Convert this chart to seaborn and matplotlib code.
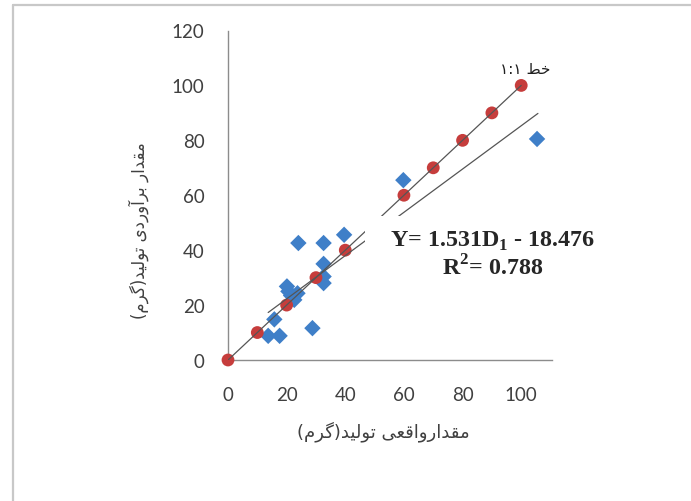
import numpy as np
import pandas as pd
import matplotlib
matplotlib.use("Agg")
import matplotlib.pyplot as plt
from matplotlib.lines import Line2D
from matplotlib.patches import Rectangle
import seaborn as sns

# data
line11_x = [0, 10, 20, 30, 40, 50, 60, 70, 80, 90, 100]
line11_y = [0, 10, 20, 30, 40, 50, 60, 70, 80, 90, 100]
obs_x = [13.7, 15.8, 17.6, 20.1, 20.6, 21.5, 22.6, 23.7, 24.0, 28.8, 32.6, 32.6, 32.6, 32.6, 39.6, 59.8, 105.4]
obs_y = [8.8, 14.8, 8.8, 26.8, 25.0, 23.5, 21.9, 24.3, 42.6, 11.6, 42.6, 35.0, 30.4, 28.0, 45.6, 65.5, 80.5]
trend_x = [13.7, 105.7]
trend_y = [17.3, 89.8]
x_ticks = [0, 20, 40, 60, 80, 100]
y_ticks = [0, 20, 40, 60, 80, 100, 120]

x_label = "مقدارواقعی تولید(گرم)"
y_label = "مقدار برآوردی تولید(گرم)"
line_label = "خط ۱:۱"
eq_text = "Y= 1.531D$_\\mathbf{1}$ - 18.476\nR$^\\mathbf{2}$= 0.788"

# tiny arabic shaping so matplotlib shows joined, right-to-left text
forms = {
    'ا': ('\uFE8D', '\uFE8E', None, None),
    'آ': ('\uFE81', '\uFE82', None, None),
    'ب': ('\uFE8F', '\uFE90', '\uFE91', '\uFE92'),
    'ت': ('\uFE95', '\uFE96', '\uFE97', '\uFE98'),
    'خ': ('\uFEA5', '\uFEA6', '\uFEA7', '\uFEA8'),
    'د': ('\uFEA9', '\uFEAA', None, None),
    'ر': ('\uFEAD', '\uFEAE', None, None),
    'ط': ('\uFEC1', '\uFEC2', '\uFEC3', '\uFEC4'),
    'ع': ('\uFEC9', '\uFECA', '\uFECB', '\uFECC'),
    'ق': ('\uFED5', '\uFED6', '\uFED7', '\uFED8'),
    'ل': ('\uFEDD', '\uFEDE', '\uFEDF', '\uFEE0'),
    'م': ('\uFEE1', '\uFEE2', '\uFEE3', '\uFEE4'),
    'و': ('\uFEED', '\uFEEE', None, None),
    'ی': ('\uFBFC', '\uFBFD', '\uFBFE', '\uFBFF'),
    'گ': ('\uFB92', '\uFB93', '\uFB94', '\uFB95'),
}

def rtl(s):
    out = []
    for i, c in enumerate(s):
        if c not in forms:
            out.append(c)
            continue
        iso, fin, ini, med = forms[c]
        p = s[i - 1] if i > 0 else ''
        n = s[i + 1] if i + 1 < len(s) else ''
        pj = p in forms and forms[p][2] is not None
        nj = n in forms and ini is not None
        if pj and nj:
            out.append(med)
        elif pj:
            out.append(fin)
        elif nj:
            out.append(ini)
        else:
            out.append(iso)
    vis = ''.join(out)[::-1]
    return vis.translate(str.maketrans('()', ')('))

sns.set_style("white")
plt.rcParams['font.family'] = ['Lato', 'DejaVu Sans']
plt.rcParams['mathtext.fontset'] = 'custom'
plt.rcParams['mathtext.rm'] = 'Liberation Serif:bold'
plt.rcParams['mathtext.bf'] = 'Liberation Serif:bold'

fig = plt.figure(figsize=(6.91, 5.02), dpi=100)
ax = fig.add_axes([228 / 691, 1 - 361 / 502, 324 / 691, 329.5 / 502])

obs = pd.DataFrame({'x': obs_x, 'y': obs_y})
ref = pd.DataFrame({'x': line11_x, 'y': line11_y})

sns.scatterplot(data=obs, x='x', y='y', marker='D', s=70, color='#3f7fc8',
                edgecolor='none', ax=ax, zorder=3, clip_on=False)
sns.scatterplot(data=ref, x='x', y='y', marker='o', s=85, color='#c63d3c',
                edgecolor='none', ax=ax, zorder=4, clip_on=False)
ax.plot(line11_x, line11_y, color='#555555', lw=0.9, zorder=5)
ax.plot(trend_x, trend_y, color='#555555', lw=0.9, zorder=5)

ax.set_xlim(0, 110.5)
ax.set_ylim(0, 120)
ax.set_xticks(x_ticks)
ax.set_yticks(y_ticks)
ax.set_xlabel('')
ax.set_ylabel('')
for s in ['top', 'right']:
    ax.spines[s].set_visible(False)
for s in ['left', 'bottom']:
    ax.spines[s].set_color('#8c8c8c')
    ax.spines[s].set_linewidth(1.0)
ax.tick_params(axis='both', direction='out', length=5, width=1.0,
               color='#8c8c8c', labelsize=13.5, labelcolor='#404040')
ax.tick_params(axis='x', pad=14)
ax.tick_params(axis='y', pad=12)

# white box behind the equation
ax.add_patch(Rectangle((0.423, 0.20), 0.75, 0.237, transform=ax.transAxes,
                       facecolor='white', edgecolor='none', zorder=6, clip_on=False))
fig.text(493 / 691, 1 - 255 / 502, eq_text, ha='center', va='center',
         family='Liberation Serif', fontweight='bold', fontsize=17.3,
         linespacing=1.1, zorder=7)

fig.text(525 / 691, 1 - 70 / 502, rtl(line_label), ha='center', va='center',
         family='DejaVu Sans', fontsize=11, color='#202020')
fig.text(383 / 691, 1 - 432 / 502, rtl(x_label), ha='center', va='center',
         family='DejaVu Sans', fontsize=13, color='#404040')
fig.text(139 / 691, 1 - 231 / 502, rtl(y_label), ha='center', va='center',
         rotation=90, family='DejaVu Sans', fontsize=12, color='#404040')

# light frame on the left and top
fig.add_artist(Line2D([13 / 691, 13 / 691], [0, 1 - 6 / 502], color='#c8c8c8', lw=1.6))
fig.add_artist(Line2D([13 / 691, 1], [1 - 6 / 502, 1 - 6 / 502], color='#c8c8c8', lw=1.6))

fig.savefig('out.png', dpi=100)
